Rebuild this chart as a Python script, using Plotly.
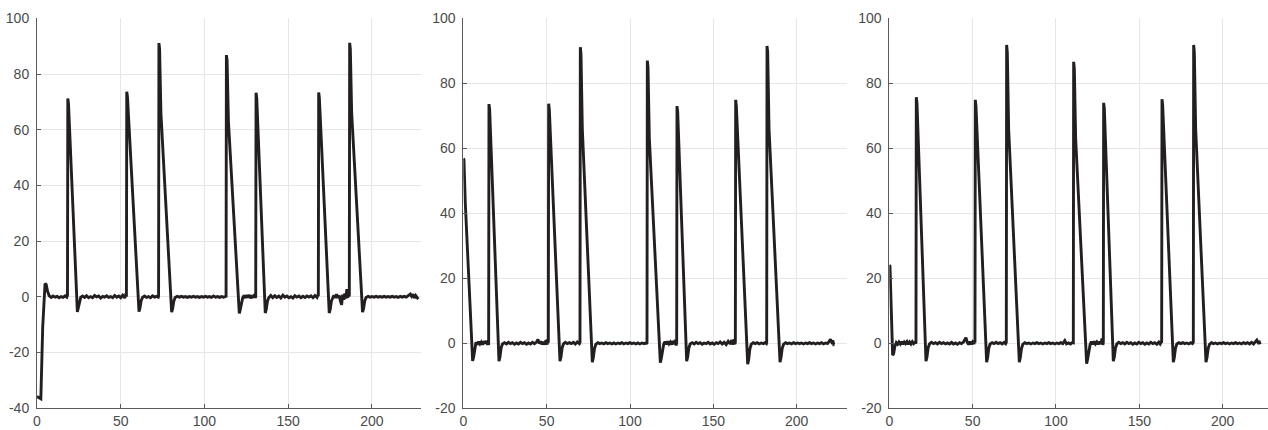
import plotly.graph_objects as go

# ---------------- data ----------------
X_TICKS = [0, 50, 100, 150, 200]
Y_TICKS_1 = [-40, -20, 0, 20, 40, 60, 80, 100]
Y_TICKS_23 = [-20, 0, 20, 40, 60, 80, 100]

# Panel 1
T1 = [0, 1.2, 2.3, 3.4, 4.8, 5.5, 6.3, 7.3, 8.5, 9.6, 10.8, 12.0, 13.2, 14.4, 15.6, 16.8, 17.8,
      18.2, 18.4, 18.8, 24.1, 24.7, 25.3, 26.1,
      27.2, 28.4, 29.6, 30.8, 32.0, 33.2, 34.4, 35.6, 36.8, 38.0, 39.2, 40.4, 41.6, 42.8, 44.0, 45.2,
      46.4, 47.6, 48.8, 50.0, 51.2, 52.4, 53.2,
      53.4, 53.6, 54.0, 60.9, 61.5, 62.2, 63.0,
      64.2, 65.4, 66.6, 67.8, 69.0, 70.2, 71.4, 72.4,
      72.6, 72.8, 73.2, 74.0, 80.4, 81.0, 81.7, 82.5,
      83.7, 85.0, 86.2, 87.4, 88.6, 89.8, 91.0, 92.2, 93.4, 94.6, 95.8, 97.0, 98.2, 99.4, 100.6, 101.8,
      103.0, 104.2, 105.4, 106.6, 107.8, 109.0, 110.2, 111.4, 112.6,
      112.9, 113.1, 113.5, 114.3, 120.8, 121.4, 122.1, 122.8,
      123.6, 124.4, 125.2, 126.0, 126.8, 127.6, 128.4, 129.2, 130.0, 130.4,
      130.6, 130.8, 131.2, 136.3, 136.9, 137.6, 138.4,
      139.6, 140.8, 142.0, 143.2, 144.4, 145.6, 146.8, 148.0, 149.2, 150.4, 151.6, 152.8, 154.0, 155.2,
      156.4, 157.6, 158.8, 160.0, 161.2, 162.4, 163.6, 164.8, 166.0, 167.2, 167.8,
      168.0, 168.2, 168.6, 174.5, 175.1, 175.8, 176.5,
      177.3, 178.1, 178.9, 179.7, 180.5, 181.2, 181.9, 182.5, 183.2, 183.8, 184.5, 185.0, 185.5, 186.0, 186.3,
      186.5, 186.7, 187.1, 187.9, 194.4, 195.0, 195.7, 196.5,
      197.7, 198.9, 200.1, 201.3, 202.5, 203.7, 204.9, 206.1, 207.3, 208.5, 209.7, 210.9, 212.1, 213.3,
      214.5, 215.7, 216.9, 218.1, 219.3, 220.5, 221.7, 222.9, 223.7, 224.5, 225.3, 226.1, 226.9, 227.7]
V1 = [-35.8, -36.3, -36.6, -11.0, 4.8, 4.4, 2.0, 0.4, -0.2, 0.3, -0.1, 0.2, -0.3, 0.1, -0.2, 0.4, -0.1,
      0.5, 71.2, 69.5, -5.4, -3.8, -1.2, -0.2,
      0.3, -0.2, 0.4, -0.3, 0.1, -0.3, 0.5, 0.0, 0.3, -0.4, 0.2, -0.1, 0.4, -0.2, 0.1, -0.3,
      0.5, -0.1, 0.3, -0.3, 0.6, -0.4, 1.2,
      0.0, 73.6, 72.0, -5.3, -4.0, -1.4, -0.2,
      0.3, -0.2, 0.1, -0.3, 0.4, -0.1, 0.2, -0.1,
      0.3, 91.1, 89.0, 66.0, -5.5, -4.2, -1.5, -0.2,
      0.2, -0.1, 0.2, -0.1, 0.1, -0.2, 0.1, -0.1, 0.2, -0.1, 0.1, -0.2, 0.1, -0.1, 0.2, -0.1,
      0.1, -0.2, 0.3, -0.1, 0.1, -0.2, 0.1, -0.1, 0.2,
      0.2, 86.8, 85.0, 63.0, -5.9, -4.5, -1.8, -0.4,
      0.5, -0.4, 0.6, -0.2, 0.7, -0.5, 0.5, -0.3, 0.9, -0.4,
      0.3, 73.3, 71.5, -5.8, -4.4, -1.6, -0.3,
      0.5, -0.3, 0.4, -0.2, 0.3, -0.4, 0.6, -0.1, 0.3, -0.3, 0.1, -0.4, 0.4, -0.1,
      0.3, -0.3, 0.2, -0.2, 0.3, -0.1, 0.4, -0.3, 0.5, -0.2, 0.8,
      0.2, 73.4, 71.5, -5.8, -4.4, -1.5, -0.2,
      0.6, -0.4, 0.9, -0.3, 0.5, -1.5, -2.9, 0.8, -1.0, 1.2, -0.6, 2.8, -0.3, 1.5, 0.2,
      0.5, 91.2, 89.0, 66.0, -5.5, -4.2, -1.5, -0.2,
      0.2, -0.1, 0.1, -0.1, 0.2, -0.1, 0.1, -0.1, 0.2, -0.1, 0.1, -0.1, 0.2, -0.1,
      0.1, -0.2, 0.2, -0.1, 0.2, -0.1, 0.3, 1.0, 0.2, 0.9, -0.4, 0.5, -0.2, -0.8]

# Panel 2
T2 = [0, 0.4, 1.2, 5.6, 6.2, 6.9, 7.6, 8.4, 9.2, 10.0, 10.8, 11.6, 12.4, 13.2, 14.0, 14.6, 15.0,
      15.2, 15.4, 15.8, 21.4, 22.0, 22.7, 23.5,
      24.7, 25.9, 27.1, 28.3, 29.5, 30.7, 31.9, 33.1, 34.3, 35.5, 36.7, 37.9, 39.1, 40.3, 41.5, 42.7,
      43.9, 44.8, 45.6, 46.4, 47.2, 48.0, 48.8, 49.6, 50.3, 50.7,
      51.0, 51.2, 51.6, 58.0, 58.6, 59.3, 60.1,
      61.2, 62.4, 63.6, 64.8, 66.0, 67.2, 68.4, 69.6,
      70.0, 70.2, 70.6, 71.4, 77.4, 78.0, 78.7, 79.5,
      80.7, 81.9, 83.1, 84.3, 85.5, 86.7, 87.9, 89.1, 90.3, 91.5, 92.7, 93.9, 95.1, 96.3, 97.5, 98.7,
      99.9, 101.1, 102.3, 103.5, 104.7, 105.9, 107.1, 108.3, 109.5, 110.0,
      110.2, 110.4, 110.8, 111.6, 118.2, 118.8, 119.5, 120.2,
      121.0, 121.8, 122.6, 123.4, 124.2, 125.0, 125.8, 126.6, 127.2, 127.7,
      128.0, 128.2, 128.6, 134.0, 134.6, 135.3, 136.1,
      137.3, 138.5, 139.7, 140.9, 142.1, 143.3, 144.5, 145.7, 146.9, 148.1, 149.3, 150.5, 151.7, 152.9,
      154.1, 155.3, 156.5, 157.7, 158.9, 160.1, 161.0, 161.8, 162.5, 162.9,
      163.2, 163.4, 163.8, 170.6, 171.2, 171.9, 172.7,
      173.9, 175.1, 176.3, 177.5, 178.7, 179.9, 181.0, 181.8,
      182.0, 182.2, 182.6, 183.4, 190.0, 190.6, 191.3, 192.1,
      193.3, 194.5, 195.7, 196.9, 198.1, 199.3, 200.5, 201.7, 202.9, 204.1, 205.3, 206.5, 207.7, 208.9,
      210.1, 211.3, 212.5, 213.7, 214.9, 216.1, 217.3, 218.5, 219.5, 220.3, 221.0, 221.7, 222.2, 222.6]
V2 = [56.9, 56.5, 43.1, -5.4, -4.2, -1.5, 0.3, -0.4, 0.5, -0.2, 0.4, -0.4, 0.6, -0.1, 0.7, -0.5, 0.9,
      -0.5, 73.6, 72.0, -5.5, -4.2, -1.4, -0.2,
      0.2, -0.2, 0.3, -0.1, 0.2, -0.3, 0.1, -0.2, 0.3, -0.1, 0.2, -0.3, 0.1, -0.2, 0.3, -0.1,
      0.4, 1.2, -0.1, 0.6, -0.3, 0.4, -0.4, 1.0, -0.4, 1.3,
      0.2, 73.7, 72.0, -5.5, -4.2, -1.4, -0.2,
      0.3, -0.1, 0.2, -0.1, 0.3, -0.2, 0.4, -0.1,
      0.3, 91.1, 89.0, 66.0, -5.8, -4.4, -1.6, -0.3,
      0.2, -0.1, 0.1, -0.2, 0.2, -0.1, 0.1, -0.2, 0.1, -0.2, 0.1, -0.1, 0.2, -0.2, 0.1, -0.1,
      0.2, -0.1, 0.1, -0.2, 0.1, -0.2, 0.1, -0.1, 0.1, -0.2,
      0.2, 87.0, 85.0, 63.0, -6.0, -4.6, -1.8, -0.3,
      0.5, -0.3, 0.6, -0.2, 0.4, -0.4, 0.7, -0.3, 1.1, -0.7,
      0.3, 73.0, 71.3, -5.5, -4.2, -1.5, -0.2,
      0.2, -0.2, 0.3, -0.1, 0.2, -0.3, 0.1, -0.1, 0.3, -0.2, 0.1, -0.3, 0.2, -0.1,
      0.4, -0.2, 0.3, -0.4, 0.6, -0.2, 1.0, -0.4, 1.2, -0.3,
      0.4, 74.9, 73.0, -6.4, -5.0, -1.8, -0.3,
      0.2, -0.1, 0.2, -0.2, 0.1, -0.1, 0.2, -0.1,
      0.3, 91.5, 89.5, 66.0, -5.8, -4.4, -1.6, -0.3,
      0.2, -0.1, 0.1, -0.2, 0.2, -0.1, 0.1, -0.1, 0.1, -0.2, 0.1, -0.1, 0.2, -0.1,
      0.1, -0.2, 0.1, -0.1, 0.2, -0.2, 0.1, -0.1, 0.6, 1.2, 0.4, 0.8, -0.3, -0.2]

# Panel 3
T3 = [0, 0.4, 2.0, 2.6, 3.3, 4.2, 5.0, 5.8, 6.6, 7.4, 8.2, 9.0, 9.8, 10.6, 11.4, 12.2, 13.0, 13.8, 14.6,
      15.4, 15.8,
      16.0, 16.2, 16.6, 22.0, 22.6, 23.3, 24.1,
      25.3, 26.5, 27.7, 28.9, 30.1, 31.3, 32.5, 33.7, 34.9, 36.1, 37.3, 38.5, 39.7, 40.9, 42.1, 43.3,
      44.5, 45.4, 46.0, 46.8, 47.6, 48.4, 49.2, 50.0, 50.8, 51.2,
      51.4, 51.6, 52.0, 58.4, 59.0, 59.7, 60.5,
      61.7, 62.9, 64.1, 65.3, 66.5, 67.7, 68.9, 69.8,
      70.2, 70.4, 70.8, 71.6, 78.0, 78.6, 79.3, 80.1,
      81.3, 82.5, 83.7, 84.9, 86.1, 87.3, 88.5, 89.7, 90.9, 92.1, 93.3, 94.5, 95.7, 96.9, 98.1, 99.3,
      100.5, 101.7, 102.9, 104.1, 105.3, 106.3, 107.5, 108.7, 109.9,
      110.4, 110.6, 111.0, 111.8, 118.4, 119.0, 119.7, 120.5,
      121.3, 122.1, 122.9, 123.7, 124.5, 125.3, 126.1, 126.9, 127.6, 128.1,
      128.4, 128.6, 129.0, 134.4, 135.0, 135.7, 136.5,
      137.7, 138.9, 140.1, 141.3, 142.5, 143.7, 144.9, 146.1, 147.3, 148.5, 149.7, 150.9, 152.1, 153.3,
      154.5, 155.7, 156.9, 158.1, 159.3, 160.5, 161.7, 162.5, 163.1,
      163.4, 163.6, 164.0, 170.4, 171.0, 171.7, 172.5,
      173.7, 174.9, 176.1, 177.3, 178.5, 179.7, 180.9, 181.9,
      182.4, 182.6, 183.0, 183.8, 190.0, 190.6, 191.3, 192.1,
      193.3, 194.5, 195.7, 196.9, 198.1, 199.3, 200.5, 201.7, 202.9, 204.1, 205.3, 206.5, 207.7, 208.9,
      210.1, 211.3, 212.5, 213.7, 214.9, 216.1, 217.3, 218.5, 219.7, 220.5, 221.3, 222.0, 222.5]
V3 = [24.1, 23.8, -3.7, -3.2, -1.0, 0.2, -0.3, 0.4, -0.2, 0.5, -0.3, 0.4, -0.1, 0.5, -0.3, 0.4, -0.2, 0.5, -0.1,
      0.3, -0.1,
      0.3, 75.7, 74.0, -5.5, -4.2, -1.4, -0.2,
      0.3, -0.1, 0.2, -0.2, 0.3, -0.1, 0.2, -0.2, 0.1, -0.2, 0.3, -0.2, 0.1, -0.3, 0.2, -0.1,
      0.4, 1.4, 1.7, 0.3, -0.4, 0.5, -0.3, 0.4, -0.2, 0.7,
      0.2, 74.9, 73.0, -5.8, -4.4, -1.5, -0.2,
      0.2, -0.1, 0.3, -0.1, 0.2, -0.2, 0.3, -0.1,
      0.3, 91.8, 89.5, 66.0, -5.8, -4.4, -1.6, -0.3,
      0.2, -0.1, 0.1, -0.2, 0.1, -0.1, 0.2, -0.1, 0.1, -0.2, 0.1, -0.1, 0.2, -0.1, 0.1, -0.2,
      0.1, -0.1, 0.2, -0.1, 0.8, -0.2, 0.1, -0.2, 0.3,
      0.2, 86.6, 84.5, 63.0, -6.3, -4.8, -1.8, -0.3,
      0.5, -0.3, 0.6, -0.2, 0.4, -0.3, 0.5, -0.2, 1.5, -0.5,
      0.3, 74.0, 72.3, -5.5, -4.2, -1.5, -0.2,
      0.3, -0.1, 0.2, -0.2, 0.3, -0.1, 0.2, -0.3, 0.1, -0.2, 0.3, -0.1, 0.2, -0.3,
      0.1, -0.2, 0.3, -0.1, 0.2, -0.3, 0.4, -0.2, 0.4,
      0.2, 75.1, 73.3, -5.8, -4.4, -1.5, -0.2,
      0.2, -0.1, 0.2, -0.1, 0.1, -0.2, 0.2, -0.1,
      0.3, 91.8, 89.5, 66.0, -5.8, -4.4, -1.6, -0.3,
      0.2, -0.1, 0.1, -0.2, 0.1, -0.1, 0.2, -0.1, 0.1, -0.2, 0.1, -0.1, 0.2, -0.1,
      0.1, -0.2, 0.2, -0.1, 0.2, -0.2, 0.3, -0.2, 0.5, 1.0, 0.2, 0.4, -0.3]

# ---------------- figure ----------------
W, H = 1268, 430
LINE_COLOR = "#231f20"
AXIS_COLOR = "#5a5a5a"
GRID_COLOR = "#e6e6e6"
FONT = "Liberation Sans, Arial, Helvetica, sans-serif"

panels = [
    (T1, V1, (37, 421), [0, 229.3], [-40, 100], Y_TICKS_1),
    (T2, V2, (463.3, 846.7), [0, 230], [-20, 100], Y_TICKS_23),
    (T3, V3, (889.3, 1268), [0, 227.2], [-20, 100], Y_TICKS_23),
]
y_dom = [1 - 408.3 / H, 1 - 18.3 / H]

fig = go.Figure()
layout = dict(
    width=W, height=H,
    margin=dict(l=0, r=0, t=0, b=0, pad=0, autoexpand=False),
    paper_bgcolor="white", plot_bgcolor="white",
    showlegend=False,
    font=dict(family=FONT, size=14, color="#4a4a4a"),
)
for i, (t, v, (x0, x1), xr, yr, yt) in enumerate(panels, start=1):
    sfx = "" if i == 1 else str(i)
    fig.add_trace(go.Scatter(
        x=t, y=v, mode="lines",
        line=dict(color=LINE_COLOR, width=2.9),
        xaxis="x" + sfx, yaxis="y" + sfx, hoverinfo="skip",
    ))
    layout["xaxis" + sfx] = dict(
        domain=[x0 / W, x1 / W], range=xr, anchor="y" + sfx, automargin=False,
        tickvals=X_TICKS, ticktext=[str(k) for k in X_TICKS],
        showgrid=True, gridcolor=GRID_COLOR, gridwidth=1,
        zeroline=False, showline=True, linecolor=AXIS_COLOR, linewidth=1,
        ticks="inside", ticklen=4, tickcolor=AXIS_COLOR,
        ticklabelstandoff=0,
    )
    layout["yaxis" + sfx] = dict(
        domain=y_dom, range=yr, anchor="x" + sfx, automargin=False,
        tickvals=yt, ticktext=[str(k) for k in yt],
        showgrid=True, gridcolor=GRID_COLOR, gridwidth=1,
        zeroline=False, showline=True, linecolor=AXIS_COLOR, linewidth=1,
        ticks="inside", ticklen=4, tickcolor=AXIS_COLOR,
        ticklabelstandoff=4,
    )
fig.update_layout(**layout)
fig.write_html(
    "out.html",
    config={"displayModeBar": False},
    post_script="document.body.style.margin='0px';document.body.style.overflow='hidden';",
)
